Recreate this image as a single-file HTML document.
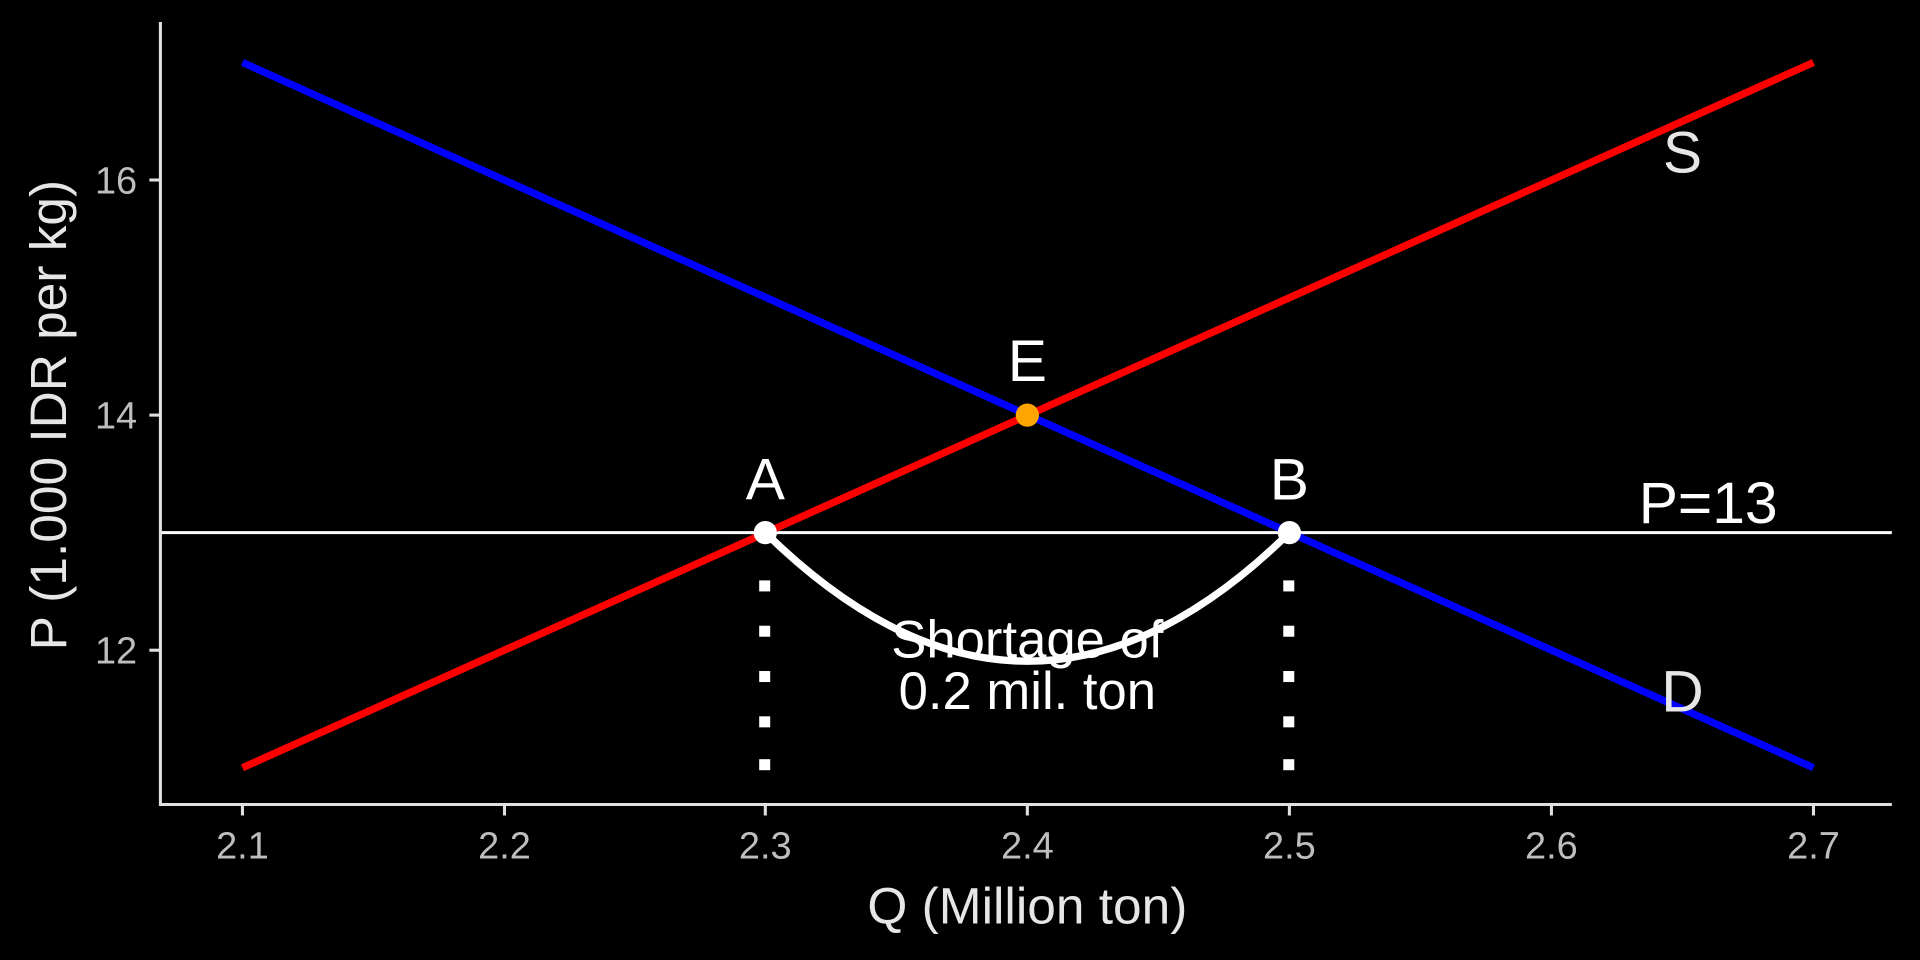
<!DOCTYPE html>
<html><head><style>html,body{margin:0;background:#000;}svg{display:block}</style></head>
<body>
<svg width="1920" height="960" viewBox="0 0 1568 784" xmlns="http://www.w3.org/2000/svg" font-family="Liberation Sans, sans-serif">
<rect width="1568" height="784" fill="#000"/>
<line x1="131" y1="435" x2="1545" y2="435" stroke="#fff" stroke-width="2.5"/>
<line x1="198" y1="627" x2="1481" y2="51" stroke="#f00" stroke-width="6"/>
<line x1="198" y1="51" x2="1481" y2="627" stroke="#00f" stroke-width="6"/>
<g fill="#fff">
<rect x="620" y="474" width="9" height="9"/><rect x="620" y="511" width="9" height="9"/><rect x="620" y="548" width="9" height="9"/><rect x="620" y="585" width="9" height="9"/><rect x="620" y="620" width="9" height="9"/>
<rect x="1048" y="474" width="9" height="9"/><rect x="1048" y="511" width="9" height="9"/><rect x="1048" y="548" width="9" height="9"/><rect x="1048" y="585" width="9" height="9"/><rect x="1048" y="620" width="9" height="9"/>
</g>
<g fill="#fff" font-size="43" text-anchor="middle">
<text x="839" y="537">Shortage of</text>
<text x="839" y="579">0.2 mil. ton</text>
</g>
<path d="M625,435 Q839,645 1053,435" fill="none" stroke="#fff" stroke-width="6"/>
<circle cx="625" cy="435" r="9.5" fill="#fff"/>
<circle cx="1053" cy="435" r="9.5" fill="#fff"/>
<circle cx="839" cy="339" r="9.5" fill="#ffa500"/>
<g fill="#fff" font-size="48" text-anchor="middle">
<text x="839" y="311">E</text>
<text x="625" y="408">A</text>
<text x="1053" y="408">B</text>
<text x="1395" y="427">P=13</text>
</g>
<g fill="#e6e6e6" font-size="48" text-anchor="middle">
<text x="1374" y="141">S</text>
<text x="1374" y="581">D</text>
</g>
<line x1="131" y1="18" x2="131" y2="658" stroke="#e0e0e0" stroke-width="2.5"/>
<line x1="130" y1="657" x2="1545" y2="657" stroke="#e0e0e0" stroke-width="2.5"/>
<g stroke="#e0e0e0" stroke-width="2.5">
<line x1="122" y1="147" x2="131" y2="147"/><line x1="122" y1="339" x2="131" y2="339"/><line x1="122" y1="531" x2="131" y2="531"/>
<line x1="198" y1="657" x2="198" y2="666"/><line x1="412" y1="657" x2="412" y2="666"/><line x1="625" y1="657" x2="625" y2="666"/><line x1="839" y1="657" x2="839" y2="666"/><line x1="1053" y1="657" x2="1053" y2="666"/><line x1="1267" y1="657" x2="1267" y2="666"/><line x1="1481" y1="657" x2="1481" y2="666"/>
</g>
<g fill="#bebebe" font-size="31">
<g text-anchor="end"><text x="112" y="158">16</text><text x="112" y="350">14</text><text x="112" y="542">12</text></g>
<g text-anchor="middle">
<text x="198" y="701">2.1</text><text x="412" y="701">2.2</text><text x="625" y="701">2.3</text><text x="839" y="701">2.4</text><text x="1053" y="701">2.5</text><text x="1267" y="701">2.6</text><text x="1481" y="701">2.7</text>
</g></g>
<g fill="#e6e6e6" font-size="42" text-anchor="middle">
<text x="839" y="754">Q (Million ton)</text>
<text transform="translate(54,339) rotate(-90)">P (1.000 IDR per kg)</text>
</g>
</svg>
</body></html>
